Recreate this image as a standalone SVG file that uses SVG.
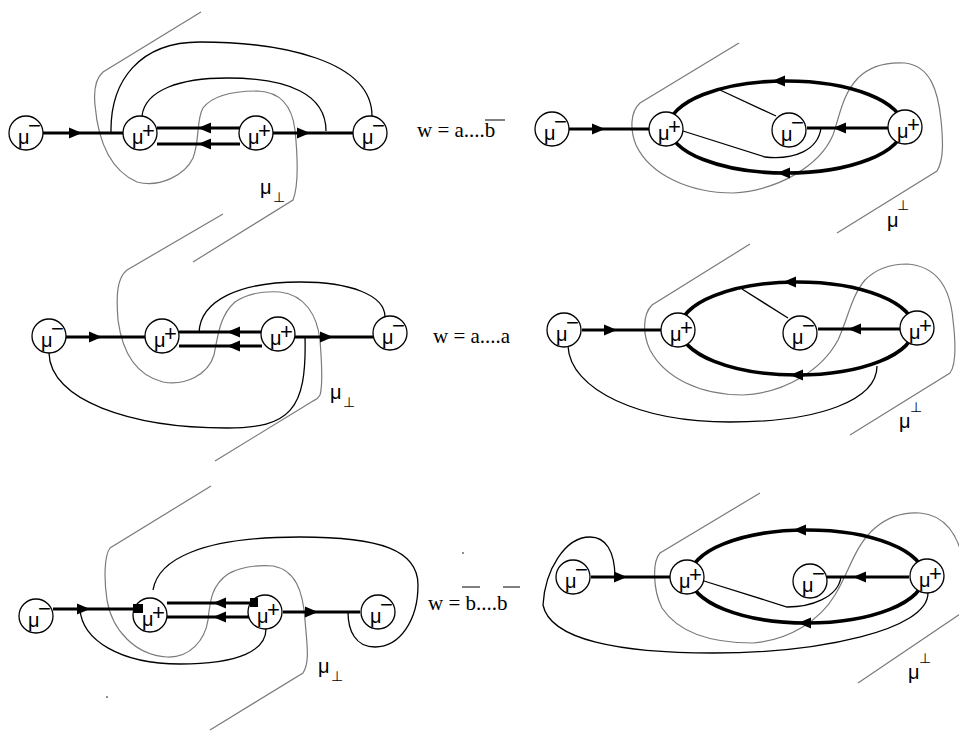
<svg xmlns="http://www.w3.org/2000/svg" xmlns:xlink="http://www.w3.org/1999/xlink" width="959" height="732" viewBox="0 0 959 732">
<style>
.cut{fill:none;stroke:#7a7a7a;stroke-width:1.2}
.thin{fill:none;stroke:#000;stroke-width:1.3}
.thick{fill:none;stroke:#000;stroke-width:3}
.ell{fill:none;stroke:#000;stroke-width:3.6}
.nc{fill:#fff;stroke:#000;stroke-width:1.3}
.mu{font-family:"Liberation Sans","DejaVu Sans",sans-serif;font-size:20px;fill:#000}
.sup{font-family:"Liberation Sans","DejaVu Sans",sans-serif;font-size:22px;fill:#000}
.perp{font-family:"DejaVu Sans",sans-serif;font-size:14px;fill:#000}
.w{font-family:"Liberation Serif",serif;font-size:21px;fill:#000}
.ol{stroke:#000;stroke-width:1}
</style>
<defs>
<path id="ah" d="M0,0 L-13,-5.5 L-13,5.5 Z" fill="#000"/>
</defs>

<g id="cuts">
<path class="cut" d="M201,12 L103,72 C94,80 94,95 95,105 C98,140 110,170 137,182 C160,188 185,175 193,158 C200,140 196,120 203,108 C212,96 232,91 258,91 C280,92 292,105 295,130 C298,160 299,185 293,200 L193,262"/>
<path class="cut" d="M739,43 L640,103 C630,112 630,130 636,145 C650,175 690,193 733,193 C780,190 820,165 833,135 C840,115 842,95 858,78 C870,66 888,62 905,63 C930,66 938,90 941,120 C943,140 944,160 937,171 L837,233"/>
<path class="cut" d="M223,214 L127,270 C117,278 116,295 118,320 C122,350 135,375 163,382 C185,386 208,375 214,355 C218,335 220,315 235,302 C248,293 265,291 280,292 C305,295 317,315 320,340 C322,365 323,385 320,395 C318,399 315,400 313,401 L215,461"/>
<path class="cut" d="M750,244 L652,305 C642,315 643,335 650,350 C665,378 700,395 743,395 C785,393 822,370 838,340 C848,318 852,295 865,280 C877,268 893,264 907,264 C935,266 950,285 953,320 C956,345 956,365 950,373 L850,435"/>
<path class="cut" d="M211,486 L110,548 C104,556 104,580 107,600 C112,630 135,655 167,657 C190,658 205,640 208,620 C210,600 212,585 228,574 C240,567 258,565 273,566 C295,570 303,590 305,620 C307,645 310,662 303,673 L210,730"/>
<path class="cut" d="M760,493 L660,553 C652,562 653,590 662,608 C678,632 710,643 753,643 C790,640 820,620 835,595 C850,570 855,545 875,528 C890,515 905,512 920,513 C945,515 958,535 963,560 L966,610 L858,683"/>
</g>

<g id="connectors">
<g id="c1">
<path class="thin" d="M111,133 C110,80 140,42 200,42 C280,42 372,60 372,116"/>
<path class="thin" d="M142,116 C145,90 180,78 227,78 C290,78 326,95 326,131"/>
<path class="thick" d="M43,133 L124,133 M157,128 L240,128 M157,144 L240,144 M273,133 L353,133"/>
<use xlink:href="#ah" transform="translate(82,133)"/>
<use xlink:href="#ah" transform="translate(198,128) rotate(180)"/>
<use xlink:href="#ah" transform="translate(198,144) rotate(180)"/>
<use xlink:href="#ah" transform="translate(310,133)"/>
</g>
<g id="c2">
<ellipse class="ell" cx="786" cy="127" rx="117" ry="46"/>
<path class="thick" d="M569,129 L649,129 M888,128 L807,128"/>
<path class="thin" d="M720,90 L776,116 M683,131 L765,157 C795,160 818,150 821,128"/>
<use xlink:href="#ah" transform="translate(605,129)"/>
<use xlink:href="#ah" transform="translate(772,81) rotate(180)"/>
<use xlink:href="#ah" transform="translate(777,173) rotate(180)"/>
<use xlink:href="#ah" transform="translate(833,128) rotate(180)"/>
</g>
<g id="c3">
<path class="thin" d="M199,333 C200,300 240,282 300,282 C350,282 385,295 385,317"/>
<path class="thin" d="M49,353 C50,400 130,428 227,428 C290,428 307,410 305,337"/>
<path class="thick" d="M66,337 L146,337 M179,332 L262,332 M179,346 L262,346 M295,337 L373,337"/>
<use xlink:href="#ah" transform="translate(102,337)"/>
<use xlink:href="#ah" transform="translate(227,332) rotate(180)"/>
<use xlink:href="#ah" transform="translate(227,346) rotate(180)"/>
<use xlink:href="#ah" transform="translate(333,337)"/>
</g>
<g id="c4">
<ellipse class="ell" cx="797" cy="328.5" rx="117" ry="46.5"/>
<path class="thick" d="M582,330 L661,330 M900,329 L818,329"/>
<path class="thin" d="M742,289 L788,318"/>
<path class="thin" d="M568,346 C570,390 640,422 730,422 C820,422 877,400 877,366"/>
<use xlink:href="#ah" transform="translate(617,330)"/>
<use xlink:href="#ah" transform="translate(783,282) rotate(180)"/>
<use xlink:href="#ah" transform="translate(790,375) rotate(180)"/>
<use xlink:href="#ah" transform="translate(848,329) rotate(180)"/>
</g>
<g id="c5">
<path class="thin" d="M153,590 C158,560 200,537 300,537 C380,537 418,550 418,585 C418,620 400,647 375,647 C355,647 348,630 348,612"/>
<path class="thin" d="M80,609 C82,640 120,664 180,664 C240,664 266,650 266,629"/>
<path class="thick" d="M53,609 L140,609 M167,603 L252,603 M167,617 L252,617 M283,612 L360,612"/>
<use xlink:href="#ah" transform="translate(90,609)"/>
<use xlink:href="#ah" transform="translate(213,603) rotate(180)"/>
<use xlink:href="#ah" transform="translate(213,617) rotate(180)"/>
<use xlink:href="#ah" transform="translate(318,612)"/>
</g>
<g id="c6">
<ellipse class="ell" cx="807" cy="576.5" rx="117" ry="46.5"/>
<path class="thick" d="M591,577 L670,577 M909,577 L827,577"/>
<path class="thin" d="M704,581 L787,607 C810,607 838,598 841,577"/>
<path class="thin" d="M615,578 C615,550 605,537 590,537 C565,537 545,570 543,605 C550,640 620,653 713,653 C820,653 928,630 928,593"/>
<use xlink:href="#ah" transform="translate(627,577)"/>
<use xlink:href="#ah" transform="translate(793,530) rotate(180)"/>
<use xlink:href="#ah" transform="translate(798,623) rotate(180)"/>
<use xlink:href="#ah" transform="translate(853,577) rotate(180)"/>
</g>
</g>

<g id="p1-n1" transform="translate(26,133)"><circle class="nc" r="17"/><text class="mu" x="-8" y="11">μ</text><text class="sup" x="2" y="0">−</text></g>
<g id="p1-n2" transform="translate(140,133)"><circle class="nc" r="17"/><text class="mu" x="-8" y="11">μ</text><text class="sup" x="2" y="5">+</text></g>
<g id="p1-n3" transform="translate(256,133)"><circle class="nc" r="17"/><text class="mu" x="-8" y="11">μ</text><text class="sup" x="2" y="5">+</text></g>
<g id="p1-n4" transform="translate(370,133)"><circle class="nc" r="17"/><text class="mu" x="-8" y="11">μ</text><text class="sup" x="2" y="0">−</text></g>

<g id="p2-n1" transform="translate(552,129)"><circle class="nc" r="17"/><text class="mu" x="-8" y="11">μ</text><text class="sup" x="2" y="0">−</text></g>
<g id="p2-n2" transform="translate(666,129)"><circle class="nc" r="17"/><text class="mu" x="-8" y="11">μ</text><text class="sup" x="2" y="5">+</text></g>
<g id="p2-n3" transform="translate(789,130)"><circle class="nc" r="17"/><text class="mu" x="-8" y="11">μ</text><text class="sup" x="2" y="0">−</text></g>
<g id="p2-n4" transform="translate(905,127)"><circle class="nc" r="17"/><text class="mu" x="-8" y="11">μ</text><text class="sup" x="2" y="5">+</text></g>

<g id="p3-n1" transform="translate(49,336)"><circle class="nc" r="17"/><text class="mu" x="-8" y="11">μ</text><text class="sup" x="2" y="0">−</text></g>
<g id="p3-n2" transform="translate(162,336)"><circle class="nc" r="17"/><text class="mu" x="-8" y="11">μ</text><text class="sup" x="2" y="5">+</text></g>
<g id="p3-n3" transform="translate(278,334)"><circle class="nc" r="17"/><text class="mu" x="-8" y="11">μ</text><text class="sup" x="2" y="5">+</text></g>
<g id="p3-n4" transform="translate(390,333)"><circle class="nc" r="17"/><text class="mu" x="-8" y="11">μ</text><text class="sup" x="2" y="0">−</text></g>

<g id="p4-n1" transform="translate(564,330)"><circle class="nc" r="17"/><text class="mu" x="-8" y="11">μ</text><text class="sup" x="2" y="0">−</text></g>
<g id="p4-n2" transform="translate(678,330)"><circle class="nc" r="17"/><text class="mu" x="-8" y="11">μ</text><text class="sup" x="2" y="5">+</text></g>
<g id="p4-n3" transform="translate(800,333)"><circle class="nc" r="17"/><text class="mu" x="-8" y="11">μ</text><text class="sup" x="2" y="0">−</text></g>
<g id="p4-n4" transform="translate(917,328)"><circle class="nc" r="17"/><text class="mu" x="-8" y="11">μ</text><text class="sup" x="2" y="5">+</text></g>

<g id="p5-n1" transform="translate(36,616)"><circle class="nc" r="17"/><text class="mu" x="-8" y="11">μ</text><text class="sup" x="2" y="0">−</text></g>
<g id="p5-n2" transform="translate(150,615)"><circle class="nc" r="17"/><text class="mu" x="-8" y="11">μ</text><text class="sup" x="2" y="5">+</text></g>
<g id="p5-n3" transform="translate(265,612)"><circle class="nc" r="17"/><text class="mu" x="-8" y="11">μ</text><text class="sup" x="2" y="5">+</text></g>
<g id="p5-n4" transform="translate(378,612)"><circle class="nc" r="17"/><text class="mu" x="-8" y="11">μ</text><text class="sup" x="2" y="0">−</text></g>

<g id="p6-n1" transform="translate(573,577)"><circle class="nc" r="17"/><text class="mu" x="-8" y="11">μ</text><text class="sup" x="2" y="0">−</text></g>
<g id="p6-n2" transform="translate(687,577)"><circle class="nc" r="17"/><text class="mu" x="-8" y="11">μ</text><text class="sup" x="2" y="5">+</text></g>
<g id="p6-n3" transform="translate(810,581)"><circle class="nc" r="17"/><text class="mu" x="-8" y="11">μ</text><text class="sup" x="2" y="0">−</text></g>
<g id="p6-n4" transform="translate(927,576)"><circle class="nc" r="17"/><text class="mu" x="-8" y="11">μ</text><text class="sup" x="2" y="5">+</text></g>

<g id="marks">
<rect x="133" y="604" width="10" height="9" fill="#000"/>
<rect x="250" y="598" width="8" height="9" fill="#000"/>
<circle cx="107" cy="697" r="0.8" fill="#000"/>
<circle cx="463" cy="553" r="0.8" fill="#000"/>
</g>

<g id="labels">
<text class="mu" x="260" y="194">μ</text><text class="perp" x="273" y="202">⊥</text>
<text class="mu" x="887" y="227">μ</text><text class="perp" x="897" y="210">⊥</text>
<text class="mu" x="330" y="399">μ</text><text class="perp" x="343" y="407">⊥</text>
<text class="mu" x="899" y="428">μ</text><text class="perp" x="910" y="412">⊥</text>
<text class="mu" x="318" y="673">μ</text><text class="perp" x="331" y="681">⊥</text>
<text class="mu" x="908" y="679">μ</text><text class="perp" x="919" y="663">⊥</text>
<text class="w" x="417" y="137">w = a....b</text>
<line class="ol" x1="485" y1="120" x2="505" y2="120"/>
<text class="w" x="433" y="343">w = a....a</text>
<text class="w" x="428" y="610">w = b....b</text>
<line class="ol" x1="462" y1="587" x2="480" y2="587"/>
<line class="ol" x1="503" y1="587" x2="520" y2="587"/>
</g>
</svg>
